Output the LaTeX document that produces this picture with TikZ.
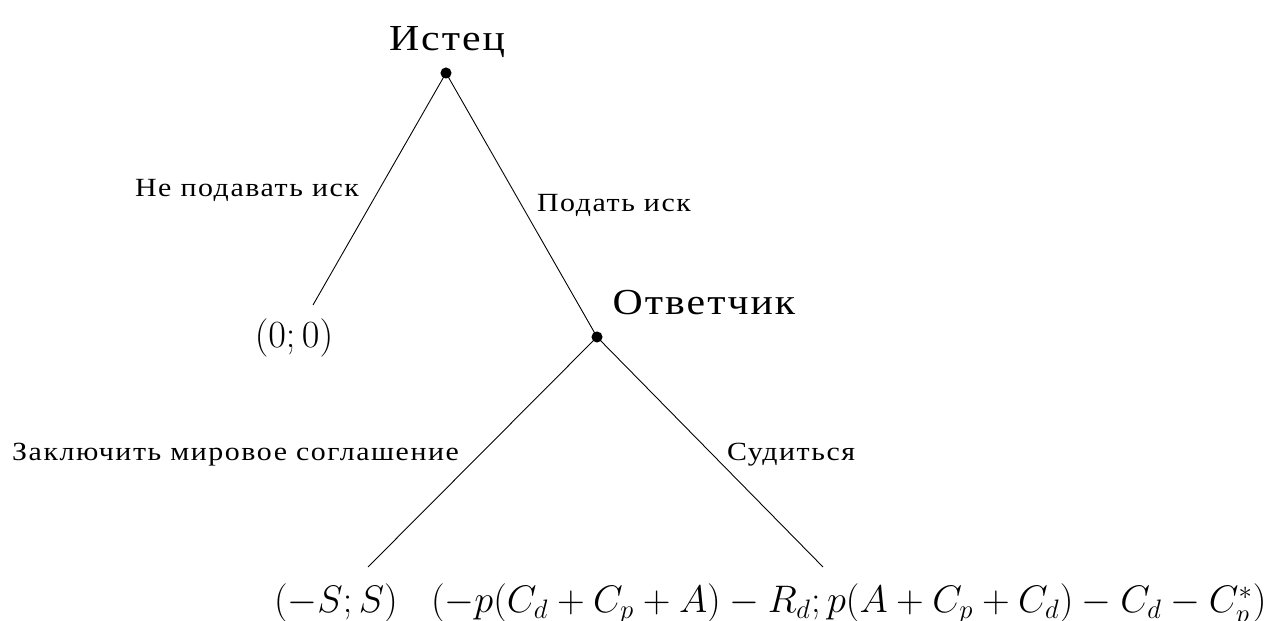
\documentclass[tikz,border=0pt]{standalone}
\usepackage[no-math]{fontspec}
\setmainfont{Liberation Serif}
\newfontfamily\playerfont{Liberation Serif}[FakeStretch=1.14,LetterSpace=5.5]
\newfontfamily\movefont{Liberation Serif}[FakeStretch=1.14,LetterSpace=6]
\begin{document}
\begin{tikzpicture}[x=0.45pt,y=-0.45pt,
  dot/.style={circle,fill,inner sep=0pt,minimum size=5pt},
  txt/.style={inner sep=0pt,outer sep=0pt},
  player/.style={txt,font=\playerfont\fontsize{16.5}{18}\selectfont},
  move/.style={txt,font=\movefont\fontsize{11.8}{13}\selectfont},
  payoff/.style={txt,font=\fontsize{18.1}{20}\selectfont}]
\useasboundingbox (0,0) rectangle (1284,621);
% decision nodes
\node[dot] (root) at (446,73) {};
\node[dot] (resp) at (597,337) {};
\coordinate (l0) at (313,305);
\coordinate (ll) at (368,567);
\coordinate (rr) at (823,567);
% edges
\draw (root.center) -- (l0);
\draw (root.center) -- (resp.center);
\draw (resp.center) -- (ll);
\draw (resp.center) -- (rr);
% player labels
\node[player,anchor=base] (pl1) at (447,51) {Истец};
\node[player,anchor=base] (pl2) at (704,315) {Ответчик};
% move labels
\node[move,anchor=base east] (m1) at (359,197) {Не подавать иск};
\node[move,anchor=base west] (m2) at (537,212) {Подать иск};
\node[move,anchor=base east] (m3) at (459,461) {Заключить мировое соглашение};
\node[move,anchor=base west] (m4) at (727,461) {Судиться};
% payoffs
\node[payoff,anchor=base] (p0) at (294,348) {$(0;0)$};
\node[payoff,anchor=base west] (p1) at (274,613) {$(-S;S)$};
\node[payoff,anchor=base west] (p2) at (431,613) {$(-p(C_d+C_p+A)-R_d;p(A+C_p+C_d)-C_d-C_p^*)$};
\end{tikzpicture}
\end{document}
